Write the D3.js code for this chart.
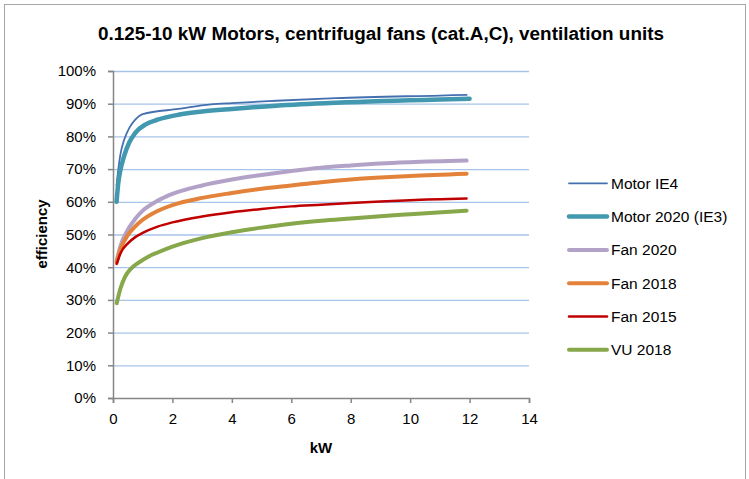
<!DOCTYPE html>
<html><head><meta charset="utf-8">
<script src="https://cdn.jsdelivr.net/npm/d3@7"></script>
<style>body{margin:0;background:#fff}svg{display:block}</style>
</head><body>
<svg id="c" width="749" height="479"></svg>
<script>
const title = "0.125-10 kW Motors, centrifugal fans (cat.A,C), ventilation units";
const xTicks = [0,2,4,6,8,10,12,14];
const yTicks = [0,10,20,30,40,50,60,70,80,90,100];
const seriesNames = ["Motor IE4","Motor 2020 (IE3)","Fan 2020","Fan 2018","Fan 2015","VU 2018"];
const motorIE4 = [[0.12,65],[0.18,70],[0.25,74.5],[0.37,78.8],[0.55,82.6],[0.75,85.1],[1.0,86.8],[2.2,88.4],[3.3,89.8],[4,90.2],[5.5,90.9],[7.5,91.7],[11,92.5],[11.9,92.7]];
const motorIE3 = [[0.12,60],[0.18,65.9],[0.25,69.7],[0.37,73.9],[0.55,78.2],[0.75,81.1],[1.1,83.7],[1.5,85.1],[2.2,86.6],[3,87.6],[4,88.4],[5.5,89.4],[7.5,90.3],[11,91.3],[12,91.5]];
const fan2020 = [[0.125,42],[0.25,46.5],[0.5,51.5],[0.75,54.8],[1,57.3],[1.5,60.3],[2,62.4],[3,65],[4,66.8],[5,68.2],[6,69.4],[7,70.4],[8,71.1],[9,71.7],[10,72.1],[11.9,72.6]];
const fan2018 = [[0.125,41.5],[0.25,45.5],[0.5,49.8],[0.75,52.5],[1,54.5],[1.5,57.2],[2,59],[3,61.2],[4,62.7],[5,64],[6,65],[7,66],[8,66.8],[9,67.4],[10,67.9],[11.9,68.6]];
const fan2015 = [[0.125,41],[0.25,44.2],[0.5,47.3],[0.75,49.2],[1,50.5],[1.5,52.4],[2,53.7],[3,55.5],[4,56.8],[5,57.8],[6,58.6],[7,59.1],[8,59.6],[9,60.1],[10,60.5],[11.9,61]];
const vu2018 = [[0.125,29],[0.25,33.5],[0.4,37],[0.6,39.5],[0.85,41.3],[1.2,43.3],[1.5,44.5],[2,46.3],[3,48.9],[4,50.7],[5,52.1],[6,53.3],[7,54.2],[8,54.9],[9,55.6],[10,56.2],[11.9,57.3]];

const seriesData = [motorIE4, motorIE3, fan2020, fan2018, fan2015, vu2018];
const colors = ["#4470b0","#4198af","#b3a2c7","#e3823a","#c00000","#86a74a"];
const widths = [1.8,4.5,4,4,2.5,4];

const svg = d3.select("#c");
const font = "'Liberation Sans', Arial, sans-serif";
svg.append("rect").attr("x",4.5).attr("y",4.5).attr("width",741).attr("height",480)
  .attr("fill","#fff").attr("stroke","#a6a6a6").attr("stroke-width",1);

const x = d3.scaleLinear().domain([0,14]).range([113,529]);
const y = d3.scaleLinear().domain([0,100]).range([398,71]);

// grid
svg.append("g").selectAll("line").data(yTicks.filter(d=>d>0)).join("line")
  .attr("x1",x(0)).attr("x2",x(14)).attr("y1",d=>y(d)+0.5).attr("y2",d=>y(d)+0.5)
  .attr("stroke","#a7c3e8").attr("stroke-width",1.3);

const xa = svg.append("g").attr("transform",`translate(0,${y(0)})`)
  .call(d3.axisBottom(x).tickValues(xTicks).tickSize(5).tickPadding(10).tickFormat(d3.format("d")));
const ya = svg.append("g").attr("transform",`translate(${x(0)},0)`)
  .call(d3.axisLeft(y).tickValues(yTicks).tickSize(5).tickPadding(12).tickFormat(d=>d+"%"));
[xa,ya].forEach(a=>{
  a.selectAll("path,line").attr("stroke","#868686").attr("stroke-width",1.5);
  a.selectAll("text").attr("font-family",font).attr("font-size",15).attr("fill","#000");
});

const line = d3.line().x(d=>x(d[0])).y(d=>y(d[1])).curve(d3.curveMonotoneX);
svg.append("g").selectAll("path").data(seriesData).join("path")
  .attr("d",line).attr("fill","none")
  .attr("stroke",(d,i)=>colors[i]).attr("stroke-width",(d,i)=>widths[i])
  .attr("stroke-linecap","round").attr("stroke-linejoin","round");

// title
svg.append("text").attr("x",381).attr("y",40).attr("text-anchor","middle")
  .attr("font-family",font).attr("font-weight","bold").attr("font-size",18)
  .attr("textLength",566).attr("lengthAdjust","spacingAndGlyphs").text(title);
// axis titles
svg.append("text").attr("x",321).attr("y",453).attr("text-anchor","middle")
  .attr("font-family",font).attr("font-weight","bold").attr("font-size",15).text("kW");
svg.append("text").attr("transform","translate(47,234) rotate(-90)").attr("text-anchor","middle")
  .attr("font-family",font).attr("font-weight","bold").attr("font-size",15).text("efficiency");

// legend
const lg = svg.append("g").selectAll("g").data(seriesNames).join("g")
  .attr("transform",(d,i)=>`translate(0,${183.3+i*33.3})`);
lg.append("line").attr("x1",569).attr("x2",607).attr("stroke",(d,i)=>colors[i])
  .attr("stroke-width",(d,i)=>widths[i]).attr("stroke-linecap","round");
lg.append("text").attr("x",611).attr("y",5.5).attr("font-family",font).attr("font-size",15.5)
  .text(d=>d);
</script>
</body></html>
